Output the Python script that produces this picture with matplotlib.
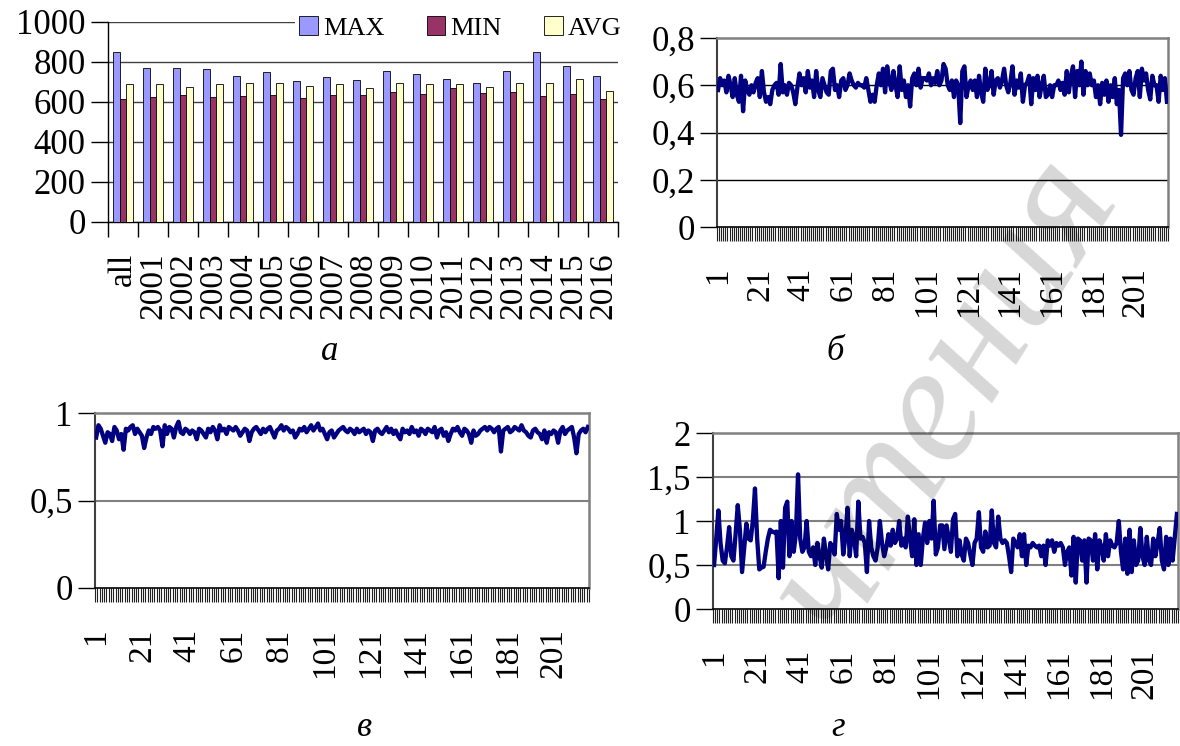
import matplotlib
matplotlib.use("Agg")
import matplotlib.pyplot as plt
import numpy as np

plt.rcParams['font.family'] = ['Liberation Serif', 'DejaVu Serif']

# ---------------- data: panel a ----------------
bar_categories = ["all", "2001", "2002", "2003", "2004", "2005", "2006", "2007", "2008",
                  "2009", "2010", "2011", "2012", "2013", "2014", "2015", "2016"]
max_vals = [848, 769, 769, 767, 730, 748, 706, 725, 708, 757, 740, 716, 693, 753, 848, 779, 730]
min_vals = [615, 627, 633, 623, 632, 637, 620, 637, 633, 652, 642, 669, 644, 652, 628, 642, 615]
avg_vals = [689, 689, 674, 691, 696, 696, 679, 691, 671, 693, 688, 691, 676, 694, 694, 713, 657]
bar_series_names = ["MAX", "MIN", "AVG"]
bar_yticks = [0, 200, 400, 600, 800, 1000]
bar_yticklabels = ["0", "200", "400", "600", "800", "1000"]

# ---------------- data: panel б ----------------
series_b = [
    0.58, 0.63, 0.60, 0.62, 0.57, 0.64, 0.60, 0.55, 0.63, 0.56, 0.53, 0.64,
    0.49, 0.62, 0.58, 0.56, 0.60, 0.57, 0.61, 0.63, 0.55, 0.66, 0.57, 0.53,
    0.55, 0.52, 0.58, 0.60, 0.61, 0.56, 0.69, 0.57, 0.60, 0.56, 0.61, 0.60,
    0.57, 0.52, 0.59, 0.65, 0.60, 0.63, 0.57, 0.66, 0.59, 0.62, 0.55, 0.66,
    0.58, 0.55, 0.63, 0.60, 0.57, 0.56, 0.66, 0.67, 0.58, 0.60, 0.55, 0.62,
    0.63, 0.58, 0.60, 0.65, 0.62, 0.60, 0.59, 0.61, 0.60, 0.60, 0.59, 0.63,
    0.58, 0.53, 0.56, 0.53, 0.60, 0.65, 0.60, 0.67, 0.57, 0.68, 0.62, 0.58,
    0.66, 0.60, 0.55, 0.68, 0.58, 0.62, 0.55, 0.60, 0.51, 0.63, 0.65, 0.60,
    0.67, 0.59, 0.63, 0.63, 0.62, 0.65, 0.60, 0.63, 0.61, 0.66, 0.60, 0.62,
    0.69, 0.67, 0.60, 0.58, 0.62, 0.55, 0.62, 0.60, 0.44, 0.66, 0.68, 0.55,
    0.60, 0.62, 0.58, 0.62, 0.55, 0.64, 0.57, 0.53, 0.67, 0.58, 0.60, 0.66,
    0.56, 0.62, 0.63, 0.59, 0.62, 0.67, 0.60, 0.57, 0.61, 0.68, 0.56, 0.62,
    0.59, 0.65, 0.53, 0.60, 0.61, 0.64, 0.52, 0.63, 0.58, 0.64, 0.55, 0.60,
    0.64, 0.55, 0.56, 0.60, 0.55, 0.60, 0.60, 0.62, 0.58, 0.61, 0.56, 0.66,
    0.57, 0.64, 0.68, 0.55, 0.66, 0.60, 0.70, 0.56, 0.66, 0.60, 0.65, 0.60,
    0.62, 0.55, 0.60, 0.52, 0.61, 0.56, 0.62, 0.53, 0.60, 0.55, 0.63, 0.52,
    0.58, 0.39, 0.63, 0.65, 0.60, 0.66, 0.58, 0.56, 0.63, 0.66, 0.55, 0.67,
    0.62, 0.65, 0.58, 0.54, 0.64, 0.60, 0.60, 0.53, 0.64, 0.58, 0.63, 0.53,
]
yticks_b = [0, 0.2, 0.4, 0.6, 0.8]
yticklabels_b = ["0", "0,2", "0,4", "0,6", "0,8"]

# ---------------- data: panel в ----------------
series_v = [
    0.86, 0.93, 0.91, 0.87, 0.83, 0.89, 0.88, 0.84, 0.92, 0.90, 0.85, 0.88,
    0.79, 0.91, 0.90, 0.92, 0.93, 0.88, 0.91, 0.89, 0.87, 0.80, 0.86, 0.90,
    0.88, 0.92, 0.91, 0.92, 0.90, 0.81, 0.93, 0.88, 0.92, 0.91, 0.86, 0.92,
    0.95, 0.89, 0.88, 0.91, 0.90, 0.88, 0.90, 0.89, 0.85, 0.91, 0.90, 0.88,
    0.86, 0.91, 0.89, 0.92, 0.90, 0.85, 0.93, 0.90, 0.91, 0.88, 0.92, 0.91,
    0.90, 0.92, 0.90, 0.87, 0.89, 0.91, 0.90, 0.84, 0.89, 0.91, 0.92, 0.90,
    0.88, 0.91, 0.89, 0.91, 0.92, 0.89, 0.86, 0.90, 0.91, 0.93, 0.90, 0.92,
    0.91, 0.89, 0.90, 0.86, 0.88, 0.91, 0.90, 0.92, 0.89, 0.91, 0.93, 0.90,
    0.92, 0.94, 0.90, 0.91, 0.88, 0.85, 0.89, 0.90, 0.86, 0.88, 0.90, 0.91,
    0.92, 0.90, 0.89, 0.91, 0.90, 0.88, 0.91, 0.89, 0.90, 0.91, 0.88, 0.90,
    0.89, 0.84, 0.90, 0.91, 0.89, 0.88, 0.90, 0.92, 0.89, 0.91, 0.88, 0.90,
    0.87, 0.85, 0.91, 0.89, 0.90, 0.88, 0.92, 0.89, 0.90, 0.87, 0.91, 0.90,
    0.88, 0.91, 0.90, 0.89, 0.92, 0.86, 0.90, 0.91, 0.87, 0.89, 0.84, 0.88,
    0.91, 0.90, 0.92, 0.89, 0.87, 0.91, 0.90, 0.88, 0.83, 0.90, 0.87, 0.88,
    0.90, 0.91, 0.92, 0.90, 0.92, 0.91, 0.89, 0.91, 0.92, 0.78, 0.90, 0.91,
    0.92, 0.89, 0.90, 0.92, 0.91, 0.90, 0.93, 0.90, 0.89, 0.87, 0.86, 0.90,
    0.91, 0.89, 0.88, 0.85, 0.90, 0.83, 0.89, 0.88, 0.90, 0.89, 0.83, 0.90,
    0.92, 0.88, 0.90, 0.91, 0.92, 0.86, 0.77, 0.88, 0.90, 0.91, 0.89, 0.92,
]
yticks_v = [0, 0.5, 1]
yticklabels_v = ["0", "0,5", "1"]

# ---------------- data: panel г ----------------
series_g = [
    0.50, 0.80, 1.12, 0.75, 0.55, 0.52, 0.70, 0.93, 0.60, 0.55, 0.85, 1.18,
    0.90, 0.42, 0.70, 0.97, 0.80, 0.78, 1.00, 1.37, 0.80, 0.45, 0.47, 0.48,
    0.65, 0.80, 0.90, 0.88, 0.87, 0.88, 0.35, 1.00, 0.47, 1.15, 1.22, 0.60,
    1.00, 0.65, 0.85, 1.53, 0.80, 0.65, 0.70, 1.00, 0.65, 0.60, 0.70, 0.50,
    0.75, 0.60, 0.47, 0.80, 0.62, 0.45, 0.75, 0.70, 0.62, 1.08, 0.90, 1.00,
    0.62, 0.82, 1.15, 0.60, 0.90, 0.80, 0.60, 1.22, 0.80, 0.82, 0.75, 0.42,
    1.00, 0.70, 0.60, 0.55, 0.70, 1.00, 0.75, 0.60, 0.70, 0.85, 0.72, 0.90,
    0.75, 0.80, 1.00, 0.72, 0.80, 0.70, 1.05, 0.80, 0.60, 1.02, 0.50, 0.85,
    0.50, 0.80, 0.98, 0.75, 1.00, 0.80, 1.23, 0.62, 0.70, 0.95, 0.95, 0.68,
    0.95, 0.80, 0.65, 1.02, 1.08, 0.60, 0.78, 0.62, 0.55, 0.80, 0.75, 0.62,
    0.50, 0.75, 0.80, 1.10, 0.70, 0.65, 0.88, 0.70, 0.72, 1.12, 0.75, 0.70,
    1.05, 0.80, 0.75, 0.78, 0.75, 0.60, 0.42, 0.80, 0.75, 0.70, 0.85, 0.60,
    0.85, 0.50, 0.72, 0.70, 0.75, 0.72, 0.70, 0.72, 0.60, 0.72, 0.50, 0.78,
    0.72, 0.78, 0.65, 0.75, 0.72, 0.75, 0.70, 0.50, 0.65, 0.70, 0.38, 0.82,
    0.30, 0.80, 0.78, 0.55, 0.78, 0.30, 0.80, 0.78, 0.55, 0.85, 0.45, 0.78,
    0.70, 0.55, 0.85, 0.60, 0.78, 0.72, 0.70, 0.75, 1.00, 0.65, 0.45, 0.80,
    0.40, 0.90, 0.42, 0.78, 0.50, 0.55, 0.92, 0.60, 0.50, 0.82, 0.55, 0.50,
    0.80, 0.60, 0.75, 0.92, 0.55, 0.45, 0.82, 0.50, 0.80, 0.55, 0.82, 1.08,
]
yticks_g = [0, 0.5, 1, 1.5, 2]
yticklabels_g = ["0", "0,5", "1", "1,5", "2"]

line_xlabels = ["1", "21", "41", "61", "81", "101", "121", "141", "161", "181", "201"]
panel_captions = ["а", "б", "в", "г"]
watermark_text = "чтения"

# ---------------- figure ----------------
W, H = 1180, 746
fig = plt.figure(figsize=(W / 100, H / 100), dpi=100)
fig.patch.set_facecolor("white")


def rect(l, r, t, b):
    return [l / W, 1 - b / H, (r - l) / W, (b - t) / H]


TICK_FS = 25
XTICK_FS = 24
LINE_COLOR = "#000080"

# ----- panel а -----
ax_a = fig.add_axes(rect(108, 618, 22, 222))
x = np.arange(len(bar_categories))
bw = 0.23
colors = ["#9999FF", "#993366", "#FFFFCC"]
for i, (vals, name, c) in enumerate(zip([max_vals, min_vals, avg_vals], bar_series_names, colors)):
    ax_a.bar(x + (i - 1) * bw, vals, width=bw, color=c, edgecolor="black", linewidth=0.6,
             label=name, zorder=3)
ax_a.set_xlim(-0.5, len(bar_categories) - 0.5)
ax_a.set_ylim(0, 1000)
ax_a.set_yticks(bar_yticks)
ax_a.set_yticklabels(bar_yticklabels, fontsize=TICK_FS)
ax_a.set_xticks(x)
ax_a.set_xticklabels(bar_categories, rotation=90, fontsize=XTICK_FS, va="top")
ax_a.set_xticks(np.arange(-0.5, len(bar_categories)), minor=True)
ax_a.tick_params(axis="x", which="major", length=0, pad=22)
ax_a.tick_params(axis="x", which="minor", length=11, width=1, direction="out")
ax_a.tick_params(axis="y", length=12, width=1, direction="out", pad=4)
for s in ["top", "right"]:
    ax_a.spines[s].set_visible(False)
for s in ["left", "bottom"]:
    ax_a.spines[s].set_color("black")
    ax_a.spines[s].set_linewidth(1)
ax_a.yaxis.grid(True, color="#404040", linewidth=1, zorder=0)
ax_a.set_axisbelow(True)
leg = ax_a.legend(loc="center right", bbox_to_anchor=(1.015, 0.97), ncol=3, fontsize=19,
                  frameon=True, facecolor="white", edgecolor="none", framealpha=1,
                  handlelength=0.7, handleheight=0.7, handletextpad=0.2,
                  columnspacing=1.6, borderpad=0.15, borderaxespad=0)
leg.get_frame().set_linewidth(0)


def line_panel(box, data, yticks, ylabels, grid_color, grid_lw):
    ax = fig.add_axes(box)
    xs = np.arange(1, len(data) + 1)
    ax.plot(xs, data, color=LINE_COLOR, linewidth=3.1, solid_joinstyle="round", zorder=3)
    ax.set_xlim(0.5, len(data) + 0.5)
    ax.set_ylim(yticks[0], yticks[-1])
    ax.set_yticks(yticks)
    ax.set_yticklabels(ylabels, fontsize=TICK_FS)
    ax.tick_params(axis="y", length=12, width=1, direction="out", pad=4)
    ax.set_xticks([int(v) for v in line_xlabels])
    ax.set_xticklabels(line_xlabels, rotation=90, fontsize=XTICK_FS, va="top")
    ax.tick_params(axis="x", which="major", length=0, pad=29)
    ax.set_xticks(np.arange(0.5, len(data) + 1), minor=True)
    ax.tick_params(axis="x", which="minor", length=10, width=0.8, color="#202020", direction="out")
    for y in yticks[1:-1]:
        ax.axhline(y, color=grid_color, linewidth=grid_lw, zorder=1)
    ax.spines["top"].set_color("#808080")
    ax.spines["right"].set_color("#808080")
    ax.spines["top"].set_linewidth(1.8)
    ax.spines["right"].set_linewidth(1.8)
    ax.spines["left"].set_color("#404040")
    ax.spines["left"].set_linewidth(1.5)
    ax.spines["bottom"].set_color("black")
    ax.spines["bottom"].set_linewidth(1.2)
    return ax


ax_b = line_panel(rect(717, 1168, 38, 227), series_b, yticks_b, yticklabels_b, "black", 1.0)
ax_v = line_panel(rect(95, 589, 413, 588), series_v, yticks_v, yticklabels_v, "#808080", 1.5)
ax_g = line_panel(rect(713, 1178, 433, 609), series_g, yticks_g, yticklabels_g, "#808080", 1.5)

# captions
cap_pos = [(330, 352), (835, 352), (365, 728), (838, 728)]
for txt, (px, py) in zip(panel_captions, cap_pos):
    fig.text(px / W, 1 - py / H, txt, fontsize=25, style="italic", ha="center", va="center")

# watermark
fig.text(945 / W, 1 - 395 / H, watermark_text, fontsize=122, style="italic", color="black",
         alpha=0.16, rotation=58, ha="center", va="center", zorder=10)

fig.savefig("out.png", dpi=100, facecolor="white")
